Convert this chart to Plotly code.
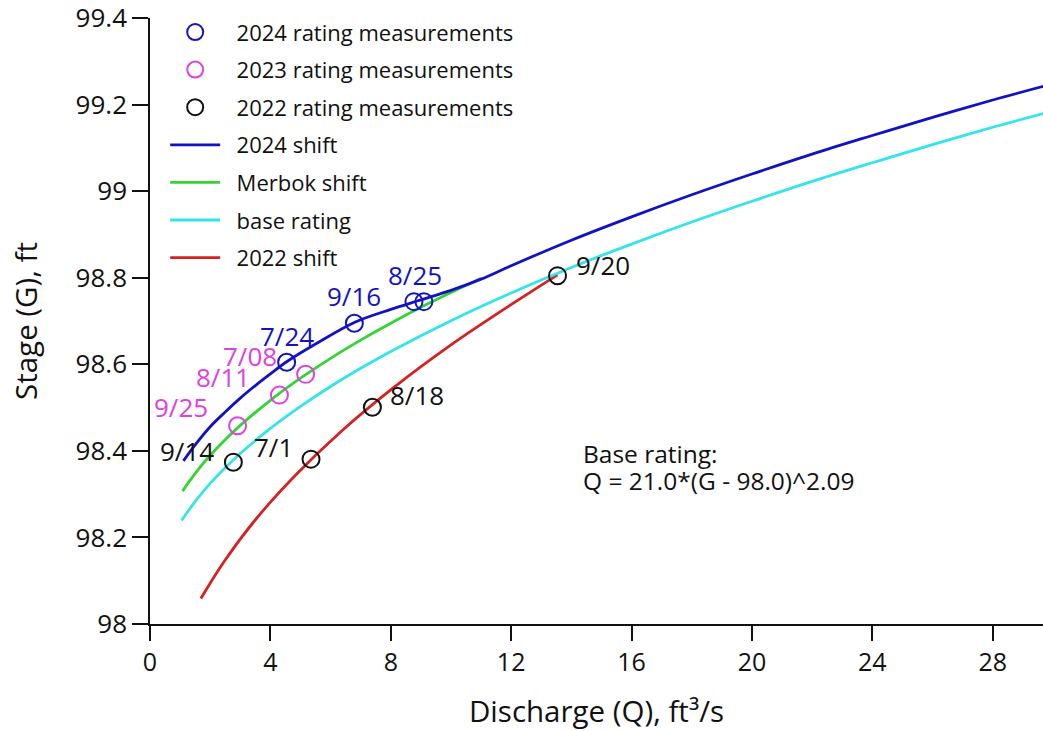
import plotly.graph_objects as go

# ---- data ----
meas24_q = [4.54, 6.79, 8.77, 9.10]
meas24_g = [98.605, 98.695, 98.745, 98.745]
meas24_lbl = ["7/24", "9/16", "8/25", ""]

meas23_q = [5.17, 4.30, 2.91]
meas23_g = [98.577, 98.529, 98.458]
meas23_lbl = ["7/08", "8/11", "9/25"]

meas22_q = [2.77, 5.35, 7.39, 13.54]
meas22_g = [98.374, 98.381, 98.501, 98.805]
meas22_lbl = ["9/14", "7/1", "8/18", "9/20"]

shift24_q = [1.11, 1.5, 2, 2.5, 3, 3.5, 4, 4.54, 5.5, 6.79, 8, 8.9, 10, 11,
             12, 14, 16, 18, 20, 22, 24, 26, 28, 29.7]
shift24_g = [98.377, 98.414, 98.456, 98.490, 98.522, 98.551, 98.578, 98.606,
             98.647, 98.697, 98.727, 98.747, 98.771, 98.797, 98.828, 98.887,
             98.941, 98.992, 99.040, 99.086, 99.129, 99.171, 99.211, 99.243]

merbok_q = [1.08, 1.3, 1.6, 2, 2.5, 3, 4, 5, 6, 7, 8, 9, 10, 11]
merbok_g = [98.307, 98.329, 98.357, 98.390, 98.426, 98.459, 98.517, 98.568,
            98.614, 98.656, 98.695, 98.732, 98.766, 98.799]

base_q = [1.05, 1.3, 1.6, 2, 2.5, 3, 4, 5, 6, 7, 8, 10, 12, 14, 16, 18, 20,
          22, 24, 26, 28, 29.7]
base_g = [98.239, 98.264, 98.292, 98.325, 98.361, 98.394, 98.452, 98.503,
          98.549, 98.591, 98.630, 98.701, 98.765, 98.824, 98.878, 98.929,
          98.977, 99.023, 99.066, 99.108, 99.148, 99.180]

shift22_q = [1.69, 2.47, 3.55, 4.85, 6.35, 8.07, 10.0, 12.15, 13.54]
shift22_g = [98.059, 98.145, 98.245, 98.345, 98.445, 98.545, 98.645, 98.745,
             98.807]

x_ticks = [0, 4, 8, 12, 16, 20, 24, 28]
y_ticks = [98, 98.2, 98.4, 98.6, 98.8, 99, 99.2, 99.4]

BLUE = "#1212c4"
MAGENTA = "#e040e0"
BLACK = "#111111"
GREEN = "#33d433"
CYAN = "#33e4ec"
RED = "#d42222"

FONT = "Open Sans"
PAD = "\u00a0\u00a0"

fig = go.Figure()

def meas_trace(q, g, color, name, grp):
    return go.Scatter(x=q, y=g, mode="markers", name=PAD + name, legendgroup=grp,
                      marker=dict(symbol="circle-open", size=17, color=color,
                                  line=dict(width=2, color=color)),
                      cliponaxis=False)

def line_trace(q, g, color, name, grp):
    return go.Scatter(x=q, y=g, mode="lines", name=PAD + name, legendgroup=grp,
                      line=dict(color=color, width=2.8, shape="spline"))

# draw lines first so markers on top; legend order via legendrank
fig.add_trace(line_trace(shift22_q, shift22_g, RED, "2022 shift", "g7"))
fig.add_trace(line_trace(base_q, base_g, CYAN, "base rating", "g6"))
fig.add_trace(line_trace(merbok_q, merbok_g, GREEN, "Merbok shift", "g5"))
fig.add_trace(line_trace(shift24_q, shift24_g, BLUE, "2024 shift", "g4"))
fig.add_trace(meas_trace(meas22_q, meas22_g, BLACK, "2022 rating measurements", "g3"))
fig.add_trace(meas_trace(meas23_q, meas23_g, MAGENTA, "2023 rating measurements", "g2"))
fig.add_trace(meas_trace(meas24_q, meas24_g, BLUE, "2024 rating measurements", "g1"))

ranks = {"g1": 1, "g2": 2, "g3": 3, "g4": 4, "g5": 5, "g6": 6, "g7": 7}
for tr in fig.data:
    tr.legendrank = ranks[tr.legendgroup]

# date labels (pixel offsets relative to each measurement)
offsets24 = [(0, 26), (0, 27), (1, 27), None]
offsets23 = [(-56, 18), (-56, 18), (-57, 19)]
offsets22 = [(-46, 11), (-38, 12), (45, 12), (45, 11)]

annotations = []
def add_labels(q, g, lbls, offs, color):
    for xi, yi, t, o in zip(q, g, lbls, offs):
        if not t or o is None:
            continue
        annotations.append(dict(x=xi, y=yi, xref="x", yref="y", text=t,
                                showarrow=False, xshift=o[0], yshift=o[1],
                                xanchor="center", yanchor="middle",
                                font=dict(family=FONT, size=26, color=color)))

add_labels(meas24_q, meas24_g, meas24_lbl, offsets24, BLUE)
add_labels(meas23_q, meas23_g, meas23_lbl, offsets23, MAGENTA)
add_labels(meas22_q, meas22_g, meas22_lbl, offsets22, BLACK)

annotations.append(dict(x=0.4826, y=0.281, xref="paper", yref="paper",
                        text="Base rating:", showarrow=False, xanchor="left",
                        yanchor="middle",
                        font=dict(family=FONT, size=24.5, color=BLACK)))
annotations.append(dict(x=0.4826, y=0.236, xref="paper", yref="paper",
                        text="Q = 21.0*(G - 98.0)^2.09", showarrow=False,
                        xanchor="left", yanchor="middle",
                        font=dict(family=FONT, size=24.5, color=BLACK)))

fig.update_layout(
    width=1043, height=731,
    margin=dict(l=150, r=0, t=18, b=107),
    paper_bgcolor="white", plot_bgcolor="white",
    font=dict(family=FONT, size=24, color=BLACK),
    showlegend=True,
    legend=dict(x=0.017, y=1.0112, xanchor="left", yanchor="top",
                bgcolor="rgba(0,0,0,0)", traceorder="grouped",
                tracegroupgap=6, itemwidth=50,
                font=dict(family=FONT, size=22, color=BLACK)),
    annotations=annotations,
)

fig.update_xaxes(range=[0, 29.67], tickvals=x_ticks, showgrid=False,
                 automargin=False,
                 zeroline=False, showline=True, linecolor=BLACK, linewidth=1.5,
                 ticks="outside", ticklen=15, tickwidth=1.5, tickcolor=BLACK,
                 tickfont=dict(family=FONT, size=25),
                 title=dict(text="Discharge (Q), ft³/s",
                            font=dict(family=FONT, size=29.5), standoff=26))
fig.update_yaxes(range=[98, 99.4005], tickvals=y_ticks, showgrid=False,
                 automargin=False, ticklabeloverflow="allow",
                 zeroline=False, showline=True, linecolor=BLACK, linewidth=1.5,
                 ticks="outside", ticklen=16, tickwidth=1.5, tickcolor=BLACK,
                 ticksuffix="\u00a0\u00a0\u00a0",
                 tickfont=dict(family=FONT, size=26),
                 title=dict(text="Stage (G), ft",
                            font=dict(family=FONT, size=29.5), standoff=29))

fig.write_html(
    "out.html",
    config={"displayModeBar": False},
    post_script="document.body.style.margin='0';"
                "document.body.style.overflow='hidden';",
)
